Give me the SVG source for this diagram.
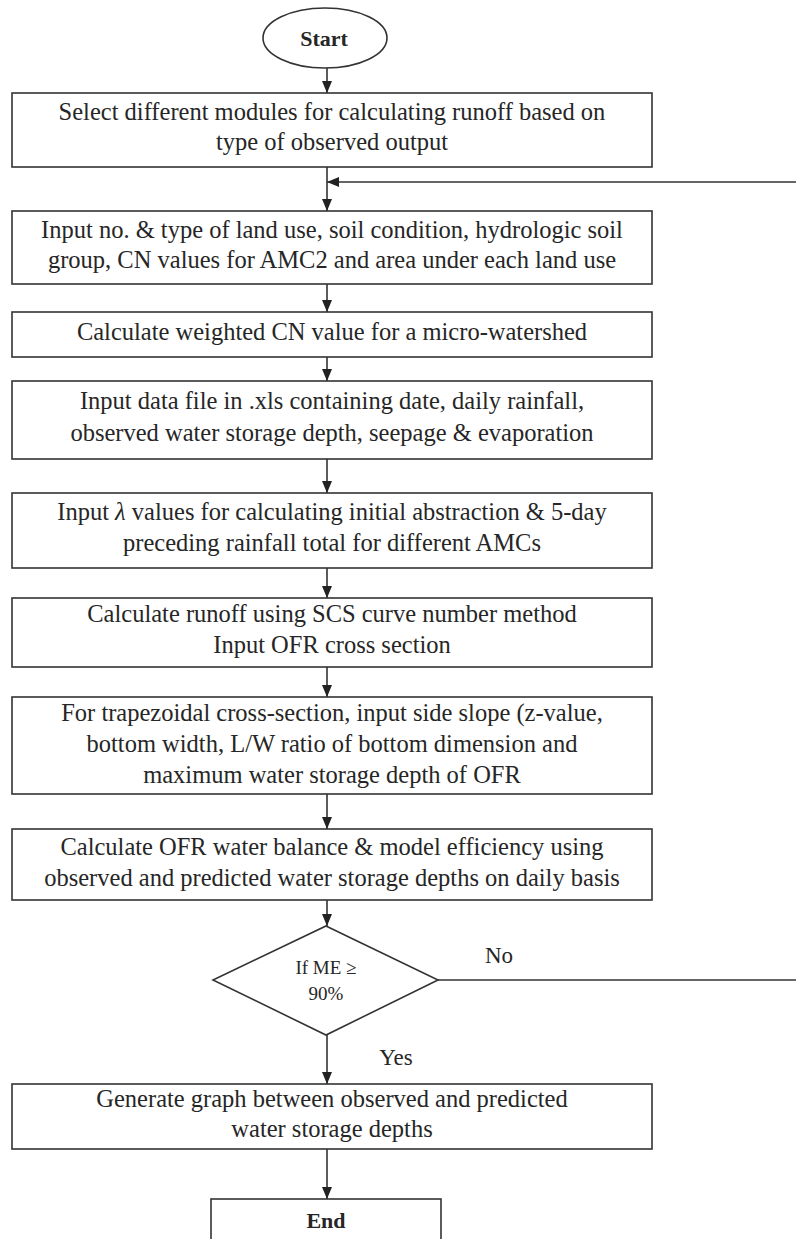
<svg xmlns="http://www.w3.org/2000/svg" width="796" height="1239" viewBox="0 0 796 1239">
<defs>
<style>
.box{fill:#fff;stroke:#333;stroke-width:1.6}
.t{font-family:"Liberation Serif","Times New Roman",serif;font-size:24.5px;fill:#262626;text-anchor:middle}
.b{font-weight:bold;font-size:22px}
.s{font-size:19px}
.lbl{font-size:23px}
.c{fill:none;stroke:#333;stroke-width:1.6}
</style>
<marker id="ah" markerWidth="12" markerHeight="10" refX="12" refY="5" orient="auto" markerUnits="userSpaceOnUse">
<path d="M0,0 L12,5 L0,10 z" fill="#222"/>
</marker>
</defs>
<rect width="796" height="1239" fill="#fff"/>
<g id="connectors">
<path class="c" d="M327,68 V93" marker-end="url(#ah)"/>
<path class="c" d="M327,167 V211" marker-end="url(#ah)"/>
<path class="c" d="M796,182 H327" marker-end="url(#ah)"/>
<path class="c" d="M327,284 V312" marker-end="url(#ah)"/>
<path class="c" d="M327,357 V381" marker-end="url(#ah)"/>
<path class="c" d="M327,459 V493" marker-end="url(#ah)"/>
<path class="c" d="M327,568 V598" marker-end="url(#ah)"/>
<path class="c" d="M327,667 V697" marker-end="url(#ah)"/>
<path class="c" d="M327,794 V829" marker-end="url(#ah)"/>
<path class="c" d="M327,900 V926" marker-end="url(#ah)"/>
<path class="c" d="M438,980 H796"/>
<path class="c" d="M327,1035 V1084" marker-end="url(#ah)"/>
<path class="c" d="M327,1149 V1199" marker-end="url(#ah)"/>
<text class="t lbl" x="499" y="963">No</text>
<text class="t lbl" x="396" y="1065">Yes</text>
</g>
<g id="start">
<ellipse class="box" cx="325" cy="38" rx="62" ry="30"/>
<text class="t b" x="324" y="46">Start</text>
</g>
<g id="select-modules">
<rect class="box" x="12" y="93" width="640" height="74"/>
<text class="t" x="332" y="120">Select different modules for calculating runoff based on</text>
<text class="t" x="332" y="150">type of observed output</text>
</g>
<g id="input-landuse">
<rect class="box" x="12" y="211" width="640" height="73"/>
<text class="t" x="332" y="238">Input no. &amp; type of land use, soil condition, hydrologic soil</text>
<text class="t" x="332" y="268">group, CN values for AMC2 and area under each land use</text>
</g>
<g id="weighted-cn">
<rect class="box" x="12" y="312" width="640" height="45"/>
<text class="t" x="332" y="340">Calculate weighted CN value for a micro-watershed</text>
</g>
<g id="input-data">
<rect class="box" x="12" y="381" width="640" height="78"/>
<text class="t" x="332" y="409">Input data file in .xls containing date, daily rainfall,</text>
<text class="t" x="332" y="441">observed water storage depth, seepage &amp; evaporation</text>
</g>
<g id="input-lambda">
<rect class="box" x="12" y="493" width="640" height="75"/>
<text class="t" x="332" y="520">Input <tspan font-style="italic">λ</tspan> values for calculating initial abstraction &amp; 5-day</text>
<text class="t" x="332" y="551">preceding rainfall total for different AMCs</text>
</g>
<g id="calc-runoff">
<rect class="box" x="12" y="598" width="640" height="69"/>
<text class="t" x="332" y="622">Calculate runoff using SCS curve number method</text>
<text class="t" x="332" y="653">Input OFR cross section</text>
</g>
<g id="trapezoidal">
<rect class="box" x="12" y="697" width="640" height="97"/>
<text class="t" x="332" y="721">For trapezoidal cross-section, input side slope (z-value,</text>
<text class="t" x="332" y="752">bottom width, L/W ratio of bottom dimension and</text>
<text class="t" x="332" y="783">maximum water storage depth of OFR</text>
</g>
<g id="water-balance">
<rect class="box" x="12" y="829" width="640" height="71"/>
<text class="t" x="332" y="855">Calculate OFR water balance &amp; model efficiency using</text>
<text class="t" x="332" y="886">observed and predicted water storage depths on daily basis</text>
</g>
<g id="decision">
<polygon class="box" points="326,926 438,980 326,1035 213,980"/>
<text class="t s" x="326" y="974">If ME ≥</text>
<text class="t s" x="326" y="1000">90%</text>
</g>
<g id="generate-graph">
<rect class="box" x="12" y="1084" width="640" height="65"/>
<text class="t" x="332" y="1107">Generate graph between observed and predicted</text>
<text class="t" x="332" y="1137">water storage depths</text>
</g>
<g id="end">
<rect class="box" x="211" y="1199" width="230" height="60"/>
<text class="t b" x="326" y="1228">End</text>
</g>
</svg>
